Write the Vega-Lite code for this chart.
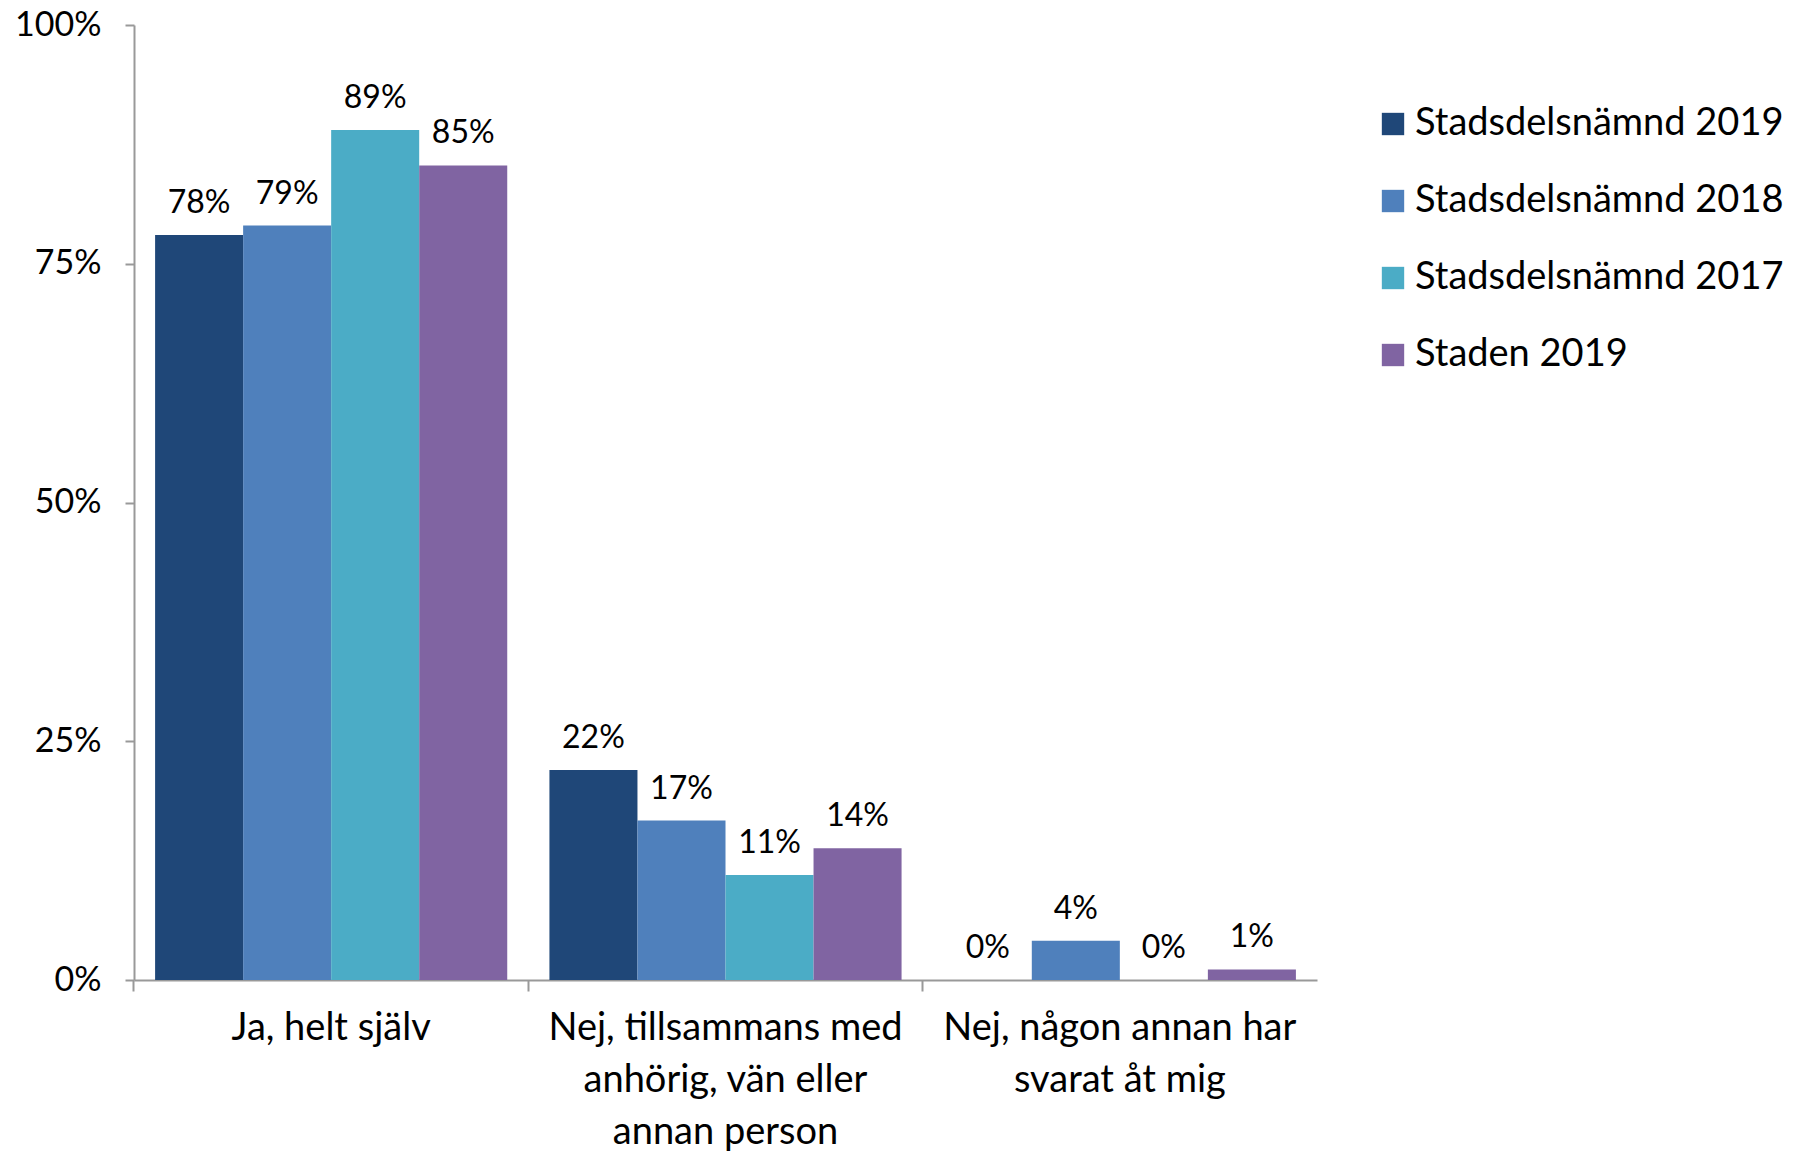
{
  "$schema": "https://vega.github.io/schema/vega-lite/v6.json",
  "width": 1183,
  "height": 955,
  "autosize": "none",
  "padding": {"left": 134, "top": 25, "right": 495, "bottom": 173},
  "background": "white",
  "config": {"view": {"stroke": null}, "font": "Lato"},
  "data": {
    "values": [
      {"svar": "Ja, helt själv", "grupp": "Stadsdelsnämnd 2019", "andel": 0.78},
      {"svar": "Ja, helt själv", "grupp": "Stadsdelsnämnd 2018", "andel": 0.79},
      {"svar": "Ja, helt själv", "grupp": "Stadsdelsnämnd 2017", "andel": 0.89},
      {"svar": "Ja, helt själv", "grupp": "Staden 2019", "andel": 0.853},
      {"svar": "Nej, tillsammans med anhörig, vän eller annan person", "grupp": "Stadsdelsnämnd 2019", "andel": 0.22},
      {"svar": "Nej, tillsammans med anhörig, vän eller annan person", "grupp": "Stadsdelsnämnd 2018", "andel": 0.167},
      {"svar": "Nej, tillsammans med anhörig, vän eller annan person", "grupp": "Stadsdelsnämnd 2017", "andel": 0.11},
      {"svar": "Nej, tillsammans med anhörig, vän eller annan person", "grupp": "Staden 2019", "andel": 0.138},
      {"svar": "Nej, någon annan har svarat åt mig", "grupp": "Stadsdelsnämnd 2019", "andel": 0.0},
      {"svar": "Nej, någon annan har svarat åt mig", "grupp": "Stadsdelsnämnd 2018", "andel": 0.041},
      {"svar": "Nej, någon annan har svarat åt mig", "grupp": "Stadsdelsnämnd 2017", "andel": 0.0},
      {"svar": "Nej, någon annan har svarat åt mig", "grupp": "Staden 2019", "andel": 0.011}
    ]
  },
  "encoding": {
    "x": {
      "field": "svar",
      "type": "nominal",
      "sort": null,
      "scale": {"paddingInner": 0.107, "paddingOuter": 0.0535},
      "axis": {
        "title": null,
        "labelAngle": 0,
        "labelFontSize": 38,
        "labelColor": "#000000",
        "labelLineHeight": 52,
        "labelPadding": 18,
        "labelExpr": "datum.value == 'Ja, helt själv' ? 'Ja, helt själv' : datum.value == 'Nej, någon annan har svarat åt mig' ? ['Nej, någon annan har', 'svarat åt mig'] : ['Nej, tillsammans med', 'anhörig, vän eller', 'annan person']",
        "domainColor": "#999999",
        "domainWidth": 2,
        "tickColor": "#999999",
        "tickWidth": 2,
        "tickSize": 11,
        "bandPosition": -0.06,
        "labelLimit": 0
      }
    },
    "xOffset": {"field": "grupp", "type": "nominal", "sort": ["Stadsdelsnämnd 2019", "Stadsdelsnämnd 2018", "Stadsdelsnämnd 2017", "Staden 2019"], "scale": {"paddingInner": 0, "paddingOuter": 0}},
    "y": {
      "field": "andel",
      "type": "quantitative",
      "scale": {"domain": [0, 1], "nice": false},
      "axis": {
        "title": null,
        "format": ".0%",
        "values": [0, 0.25, 0.5, 0.75, 1],
        "grid": false,
        "labelFontSize": 34,
        "labelColor": "#000000",
        "labelPadding": 24,
        "domainColor": "#999999",
        "domainWidth": 2,
        "tickColor": "#999999",
        "tickWidth": 2,
        "tickSize": 9
      }
    }
  },
  "layer": [
    {
      "mark": {"type": "bar"},
      "encoding": {
        "color": {
          "field": "grupp",
          "type": "nominal",
          "sort": ["Stadsdelsnämnd 2019", "Stadsdelsnämnd 2018", "Stadsdelsnämnd 2017", "Staden 2019"],
          "scale": {
            "domain": ["Stadsdelsnämnd 2019", "Stadsdelsnämnd 2018", "Stadsdelsnämnd 2017", "Staden 2019"],
            "range": ["#1F4778", "#4F80BC", "#4BACC6", "#8064A2"]
          },
          "legend": {
            "title": null,
            "orient": "none",
            "legendX": 1240,
            "legendY": 80,
            "symbolType": "square",
            "symbolSize": 500,
            "symbolStrokeWidth": 0,
            "labelFontSize": 38,
            "labelColor": "#000000",
            "labelOffset": 3,
            "rowPadding": 39,
            "labelLimit": 0
          }
        }
      }
    },
    {
      "mark": {"type": "text", "baseline": "alphabetic", "dy": -22, "fontSize": 32, "color": "#000000"},
      "encoding": {
        "text": {"field": "andel", "type": "quantitative", "format": ".0%"}
      }
    }
  ]
}
